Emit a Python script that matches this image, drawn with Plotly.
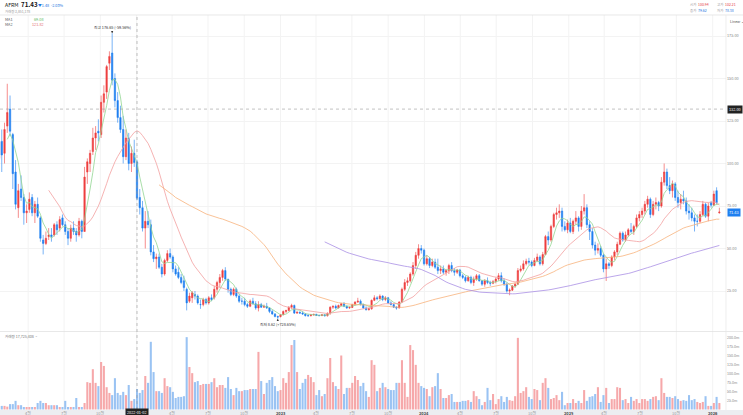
import pandas as pd
import plotly.graph_objects as go

FONT = "Noto Sans CJK KR, Noto Sans, Roboto, sans-serif"

# ---------------- data (weekly candles, first week starting 2021-01-10) ----------------
first_week = "2021-01-10"

opens = [
    # 2021
    90.9, 103, 113, 106, 122, 132, 117, 95, 74, 85,
    80, 71, 73, 80, 71, 76, 68, 55, 53, 57,
    58, 58, 64, 62, 68, 64, 60, 56, 62, 60,
    58, 66, 60, 95, 100, 107, 115, 119, 117, 136,
    142, 159, 165, 150, 137, 127, 120, 104, 115, 100,
    106,
    # 2022
    100.94, 80, 74, 62, 66, 64, 48, 44, 45,
    39, 35, 43, 47, 45, 38, 36, 33, 31, 26,
    19, 21, 23, 22, 17, 17, 20, 18, 21, 21,
    26, 30, 33, 37, 32, 26, 23, 26, 22, 19,
    19, 17, 16, 19, 17.5, 15, 17, 15.5, 16, 15,
    13, 11.5, 10,
    # 2023
    9.9, 11, 13, 13.5, 15.5, 16.5, 12,
    12.5, 12, 11.5, 10.5, 10.5, 11, 11.3, 10.6, 10.5, 11,
    10.4, 12, 15.5, 16, 15, 16.5, 17.5, 16, 15, 15.3,
    17, 18.5, 19, 17, 15, 14, 14.5, 19.5, 21, 20.5,
    22, 20, 21, 18, 17, 15.5, 15, 18.5, 26, 30,
    31, 35, 40, 46, 50,
    # 2024
    49, 41, 44, 40, 42,
    39, 37, 38, 36, 37, 40, 37, 36, 37.3, 34,
    33, 31, 33, 30, 32, 34, 31, 29, 31, 30,
    29.5, 30.5, 32, 34, 31, 29, 25, 25.5, 28, 29,
    37, 38, 41, 42.5, 42, 40, 43, 45, 41, 46.5,
    57, 55, 63, 70, 71, 72, 63, 61,
    # 2025
    65, 60,
    66, 68, 63, 72, 74, 64, 60, 52, 49, 50,
    46, 38, 41, 40, 45, 48, 52.5, 59, 55, 58,
    61, 60, 63, 68, 70, 72, 76, 79, 70, 76,
    77, 75, 89, 95, 87, 84, 88, 80, 77, 79,
    78, 72, 71, 68, 66, 66, 70, 76, 69, 77,
    # 2026
    75.5, 84, 71,
]

highs = [
    108, 118, 120, 124, 146.9, 140, 118, 102, 88, 93,
    82, 76, 83, 82, 78, 80, 69, 58, 60, 62,
    62, 65, 66, 69, 70, 66, 62, 64, 66, 62,
    68, 67, 98, 103, 108, 121, 122, 126, 140, 146,
    158, 166, 176.65, 153, 142, 134, 128, 120, 118, 110,
    114,
    102.21, 85, 78, 72, 72, 67, 52, 47, 47,
    41, 44, 49, 50, 46, 40, 39, 35, 34, 27,
    24, 25, 25, 23, 20, 21, 21, 22, 23, 28,
    31, 35, 38, 39, 32, 27, 27, 27, 23, 21,
    21, 18, 20, 21, 19, 19, 18, 17, 18, 15.5,
    14, 12, 10.5,
    11.5, 13.5, 14, 16, 17.5, 17, 13,
    13, 13, 12, 11.5, 11.5, 11.5, 11.5, 11, 11.3, 11.3,
    12.5, 16, 16.5, 17, 17, 18, 18.5, 16.5, 16, 17.5,
    19, 21, 20, 17.5, 16, 15, 20, 22.5, 22, 23,
    22.5, 22, 21.5, 19, 17.5, 16, 19, 27, 32, 33,
    36, 42, 48, 52.5, 52,
    50, 46, 45, 44, 44,
    44, 40, 40, 38, 41, 42, 38.5, 38, 38, 35,
    34, 34, 34, 33.5, 35, 35, 31.5, 32, 33, 31,
    31.5, 33, 35.5, 36, 32.5, 30, 26.5, 28.5, 30, 38.5,
    40, 43, 44, 44.5, 43, 44.5, 47, 46, 48, 58,
    60, 64, 71, 74, 76, 74, 66, 67,
    68, 67,
    72, 69, 75, 82, 76, 66, 62, 54, 53, 51.5,
    47, 44, 42, 46, 49, 54, 60, 60, 60, 62,
    65, 64, 70, 72, 74, 78, 81, 80, 78, 80,
    78, 92, 100, 97, 92, 90, 89, 84, 82, 84,
    80, 76, 74, 70, 70, 72, 78, 77, 77, 78,
    84, 86, 74,
]

lows = [
    88, 95, 95, 100, 118, 116, 85, 73, 68, 78,
    64, 65, 71, 69, 65, 68, 54, 46.5, 52, 55,
    54, 57, 58, 60, 63, 58, 52, 54, 58, 54,
    57, 56, 60, 88, 95, 105, 108, 113, 115, 130,
    138, 155, 146, 133, 124, 118, 100, 102, 96, 95,
    98,
    78.38, 70, 60, 50, 62, 46, 42, 38, 38,
    33, 34, 42, 44, 36, 34, 32, 29, 25, 13.6,
    18, 18, 20, 17, 14.5, 16, 17, 17, 19, 20,
    24, 27, 31, 31, 24, 22, 22, 21, 18, 17,
    16, 15, 15.5, 17, 14, 13, 15, 15, 14.5, 12,
    11, 9.5, 8.62,
    9.5, 10.8, 12, 13, 14.5, 11.5, 11.5,
    11.5, 11, 10, 9.8, 10, 10.5, 10.3, 10.2, 10.3, 10.2,
    10, 11, 14.5, 14.5, 14.8, 16, 15.5, 14.5, 14.5, 15,
    16.5, 18, 16.5, 14.5, 13.5, 13.5, 14, 19, 19.5, 20,
    19, 19, 17.5, 16.5, 15, 14, 14.8, 18, 25, 28,
    30, 34, 38, 44, 47,
    40, 40, 38.5, 39, 38,
    35, 35, 35, 34, 35, 36, 34, 35, 33, 32,
    30, 30.5, 29, 28, 31, 30.5, 28, 27.5, 29, 28,
    29, 29.5, 31, 30, 28, 24, 22.5, 25, 27, 28.5,
    36, 37, 40, 40.5, 39, 39.5, 42, 40, 40, 46,
    52, 54, 62, 67, 68, 60, 60, 59,
    59, 58.5,
    64, 60, 61, 70, 62, 55, 50, 46, 47, 45,
    36, 30.9, 38, 39, 43, 46, 52, 54, 54, 57,
    59, 58, 62, 66, 68, 70, 74, 68, 69, 73,
    72, 74, 87, 85, 82, 80, 78, 74, 73, 76,
    70, 67, 66, 60, 63, 65, 69, 68, 66, 74,
    75, 76, 70.5,
]

closes = [
    103, 113, 105, 120, 130, 119, 94, 76, 84, 80,
    71, 72, 79, 71, 76, 69, 56, 53, 56, 58,
    57, 64, 61, 67, 64, 60, 56, 62, 60, 58,
    66, 60, 92, 101, 106, 115, 118, 118, 136, 141,
    157, 163, 149, 137, 127, 120, 104, 115, 100, 106,
    100.56,
    79.62, 74, 62, 66, 64, 48, 44, 45, 39,
    35, 43, 47, 45, 38, 35, 33, 30, 27, 18,
    22, 24, 22, 18, 17, 20, 18, 21, 20, 26,
    30, 33, 37, 32, 26, 23, 26, 22, 19, 19,
    17, 16, 19, 17.5, 15, 17, 15.5, 16, 15, 13,
    11.5, 10, 9.67,
    11, 13, 13.5, 15.5, 16.5, 12, 12.5,
    12, 11.5, 10.5, 10.5, 11, 11.3, 10.6, 10.5, 11, 10.4,
    11.8, 15.5, 16, 15, 16.5, 17.5, 16, 15, 15.3, 17,
    18.5, 19, 17, 15, 14, 14.5, 19.5, 21, 20.5, 22,
    20, 21, 18, 17, 15.5, 15, 18.5, 26, 30, 31,
    35, 40, 46, 50, 49,
    41, 44, 40, 42, 39,
    37, 38, 36, 37, 40, 37, 36, 37.3, 34, 33,
    31, 33, 30, 32, 34, 31, 29, 31, 30, 29.5,
    30.5, 32, 34, 31, 29, 25, 25.5, 28, 29, 37,
    38, 41, 42.5, 42, 40, 43, 45, 41, 46.5, 57,
    55, 63, 70, 71, 72, 63, 61, 65,
    60, 66,
    68, 63, 72, 74, 64, 60, 52, 49, 50, 46,
    38, 41, 40, 45, 48, 52.5, 59, 55, 58, 61,
    60, 63, 68, 70, 72, 76, 79, 70, 76, 77,
    75, 89, 95, 87, 84, 88, 80, 77, 79, 78,
    72, 71, 68, 66, 66, 70, 76, 69, 75, 75.5,
    82, 77, 71.43,
]

volumes_m = [
    10, 10, 10, 10, 8, 15, 15, 24, 12, 12,
    7, 7, 7, 7, 7, 18, 24, 18, 18, 12,
    12, 12, 12, 7, 7, 24, 7, 7, 7, 32,
    7, 7, 18, 76, 74, 112, 74, 65, 132, 121,
    62, 46, 40, 87, 46, 40, 49, 40, 68, 24,
    29, 57, 46, 54, 93, 74, 188, 104, 51, 51,
    46, 87, 65, 62, 49, 32, 35, 35, 37, 201,
    118, 101, 76, 79, 68, 71, 71, 71, 76, 87,
    62, 68, 68, 60, 90, 57, 40, 60, 51, 51,
    54, 54,
    57, 57, 57, 160, 79, 43, 74, 82, 90, 65,
    51, 54, 87, 74, 104, 179, 193, 104, 57, 74,
    85, 96, 90, 76, 40, 54, 37, 43, 87, 143,
    76, 65, 57, 150, 43, 60, 60, 74, 93, 82,
    65, 74, 51, 35, 137, 124, 51, 60, 74, 62,
    57, 54, 54, 74, 74, 137, 74, 35, 179, 165,
    124, 74, 65, 60, 57, 37, 62, 65, 101, 57,
    32, 32, 40, 43, 21, 21, 21, 24, 24, 26,
    21, 51, 37, 29, 12, 21, 60,
    26, 43, 15, 29, 37, 21, 35, 26, 24, 37,
    199, 46, 51, 62, 35, 29, 57, 54, 26, 74,
    87, 60, 29, 32, 40, 26, 49, 12, 18, 18,
    29, 18, 24, 18, 54,
    24, 35, 37, 43, 62, 21, 40, 60, 18, 29,
    29, 62, 60, 26, 29, 18, 35, 24, 29, 18,
    29, 29, 24, 29, 35, 37, 26, 87, 46, 35,
    35, 32, 37, 29, 24, 26, 24, 40, 26, 29,
    21, 18, 21, 37, 10, 10, 18, 35, 18,
]

n = len(closes)
assert len(opens) == n and len(highs) == n and len(lows) == n and len(volumes_m) == n, (
    len(opens), len(highs), len(lows), len(closes), len(volumes_m))

ma_windows = [5, 20, 60, 120]
ma_colors = ["#93d593", "#f3a0a0", "#f7b27c", "#aa8fe4"]

price_ticks = [25, 50, 75, 100, 125, 150, 175]
vol_ticks = [25, 50, 75, 100, 125, 150, 175, 200]
quarter_dates = ["2021-04-01", "2021-07-01", "2021-10-01",
                 "2022-01-01", "2022-04-01", "2022-07-01", "2022-10-01",
                 "2023-01-01", "2023-04-01", "2023-07-01", "2023-10-01",
                 "2024-01-01", "2024-04-01", "2024-07-01", "2024-10-01",
                 "2025-01-01", "2025-04-01", "2025-07-01", "2025-10-01",
                 "2026-01-01"]
# the 2022 label is hidden behind the crosshair date box in the reference
quarter_labels = ["4월", "7월", "10월", "", "4월", "7월", "10월",
                  "2023", "4월", "7월", "10월", "2024", "4월", "7월", "10월",
                  "2025", "4월", "7월", "10월", "2026"]

ticker = "AFRM"
last_text = "71.43"
change_text = "▼1.48  -2.03%"
header_volume = "거래량 3,851,178"
pane_volume = "거래량 17,725,408"
ma_legend = [("MA1", "69.08", "#5cb85c"), ("MA2", "121.82", "#e36a6a")]
crosshair_date = "2022-01-02"
crosshair_price = 132.0
ohlc_box = [("시가", "100.94", "#e5403f"), ("고가", "102.21", "#e5403f"),
            ("종가", "79.62", "#1e74e0"), ("저가", "78.38", "#1e74e0")]

# ---------------- derived ----------------
highs = [max(h, o, c) for h, o, c in zip(highs, opens, closes)]
lows = [min(l, o, c) for l, o, c in zip(lows, opens, closes)]
dates = pd.date_range(first_week, periods=n, freq="7D")
close_s = pd.Series(closes, index=dates)

RED = "#ee3f3f"
BLUE = "#1f7ff0"
VRED = "rgba(242,135,137,0.72)"
VBLUE = "rgba(115,172,238,0.72)"

# ---------------- geometry ----------------
W, H = 743, 415
MR, MB = 17, 5
PW, PH = W - MR, H - MB


def fx(px):
    return px / PW


def fy(py):
    return (PH - py) / PH


px_per_week = 2.76
x0_px = -3.76
t0 = pd.Timestamp(first_week)
x_left = t0 + pd.Timedelta(days=7 * (0 - x0_px) / px_per_week)
x_right = t0 + pd.Timedelta(days=7 * (PW - x0_px) / px_per_week)

p_top_val, p_top_px, p_scale = 175.0, 36.0, 1.7
price_range = [p_top_val - (331 - p_top_px) / p_scale, p_top_val + (p_top_px - 15) / p_scale]
v_zero_px, v_scale = 409.5, 0.36
vol_range = [-(PH - v_zero_px) / v_scale, (v_zero_px - 332) / v_scale]

fig = go.Figure()

fig.add_trace(go.Candlestick(
    x=dates, open=opens, high=highs, low=lows, close=closes,
    increasing=dict(line=dict(color=RED, width=0.6), fillcolor=RED),
    decreasing=dict(line=dict(color=BLUE, width=0.6), fillcolor=BLUE),
    whiskerwidth=0, showlegend=False, hoverinfo="skip", xaxis="x", yaxis="y",
))

for w, col in zip(ma_windows, ma_colors):
    ma = close_s.rolling(w).mean()
    fig.add_trace(go.Scatter(x=dates, y=ma.values, mode="lines",
                             line=dict(color=col, width=0.8), showlegend=False,
                             hoverinfo="skip", xaxis="x", yaxis="y"))

vol_colors = [VRED if c >= o else VBLUE for o, c in zip(opens, closes)]
fig.add_trace(go.Bar(x=dates, y=volumes_m, marker=dict(color=vol_colors, line=dict(width=0)),
                     showlegend=False, hoverinfo="skip", xaxis="x", yaxis="y2"))

shapes = []
# vertical grid
for d in quarter_dates:
    shapes.append(dict(type="line", xref="x", yref="paper", x0=d, x1=d, y0=0, y1=fy(15),
                       line=dict(color="#eeeeee", width=0.7), layer="below"))
# header separator, pane separator
shapes.append(dict(type="line", xref="paper", yref="paper", x0=0, x1=fx(W), y0=fy(15), y1=fy(15),
                   line=dict(color="#dedede", width=0.7)))
shapes.append(dict(type="line", xref="paper", yref="paper", x0=0, x1=fx(W), y0=fy(331.5), y1=fy(331.5),
                   line=dict(color="#dedede", width=0.7)))
shapes.append(dict(type="line", xref="paper", yref="paper", x0=1, x1=1, y0=0, y1=fy(15),
                   line=dict(color="#e6e6e6", width=0.7)))
# bottom axis band
shapes.append(dict(type="rect", xref="paper", yref="paper", x0=0, x1=fx(W), y0=fy(H), y1=0,
                   fillcolor="#eceef1", line=dict(width=0), layer="below"))
# crosshair
shapes.append(dict(type="line", xref="x", yref="paper", x0=crosshair_date, x1=crosshair_date,
                   y0=0, y1=fy(15), line=dict(color="#999999", width=0.6, dash="dot")))
shapes.append(dict(type="line", xref="paper", yref="y", x0=0, x1=1, y0=crosshair_price, y1=crosshair_price,
                   line=dict(color="#999999", width=0.6, dash="dot")))

ann = []


def txt(x, y, text, size=4, color="#666", anchor="left", bold=False, **kw):
    t = f"<b>{text}</b>" if bold else text
    d = dict(x=fx(x), y=fy(y), xref="paper", yref="paper", text=t, showarrow=False,
             xanchor=anchor, yanchor="middle", font=dict(size=size, color=color, family=FONT))
    d.update(kw)
    ann.append(d)


# header
txt(3, 4.8, ticker, size=5.2, color="#222")
txt(18.5, 4.8, last_text, size=6.2, color="#111", bold=True)
txt(36, 5.2, change_text, size=3.8, color="#1e74e0")
txt(3, 11.3, header_volume, size=3.4, color="#999")
# MA legend
for k, (name, val, col) in enumerate(ma_legend):
    txt(3, 19.5 + 5 * k, name, size=3.8, color="#555")
    txt(46, 19.5 + 5 * k, val, size=3.8, color=col, anchor="right")
# top-right OHLC box
for k, (name, val, col) in enumerate(ohlc_box):
    cx = 688 + 27 * (k % 2)
    cy = 4.5 + 5.5 * (k // 2)
    txt(cx, cy, name, size=3.5, color="#999")
    txt(cx + 8, cy, val, size=3.5, color=col)
txt(728, 21, "Linear ⌄", size=3.6, color="#555")
# volume pane label
txt(3, 336.5, pane_volume + " ▫", size=3.6, color="#777")

# x labels
for d, lab in zip(quarter_dates, quarter_labels):
    if not lab:
        continue
    is_year = lab.isdigit()
    ann.append(dict(x=d, xref="x", y=fy(412.5), yref="paper", text=f"<b>{lab}</b>" if is_year else lab,
                    showarrow=False, xanchor="center", yanchor="middle",
                    font=dict(size=4, color="#444" if is_year else "#999", family=FONT)))

# high / low markers
i_hi = max(range(n), key=lambda i: highs[i])
i_lo = min(range(n), key=lambda i: lows[i])
last = closes[-1]
hi_v, lo_v = highs[i_hi], lows[i_lo]
ann.append(dict(x=dates[i_hi], y=hi_v, xref="x", yref="y",
                text=f"최고 {hi_v:.2f} ({(last - hi_v) / hi_v * 100:+.2f}%)",
                showarrow=True, arrowhead=2, arrowsize=0.6, arrowwidth=0.7, arrowcolor="#333",
                ax=0, ay=-6, font=dict(size=3.8, color="#333", family=FONT)))
ann.append(dict(x=dates[i_lo], y=lo_v, xref="x", yref="y",
                text=f"최저 {lo_v:.2f} ({(last - lo_v) / lo_v * 100:+.2f}%)",
                showarrow=True, arrowhead=2, arrowsize=0.6, arrowwidth=0.7, arrowcolor="#333",
                ax=0, ay=6, font=dict(size=3.8, color="#333", family=FONT)))

# right axis boxes
ann.append(dict(x=fx(727), xref="paper", y=crosshair_price, yref="y", text=f"{crosshair_price:.2f}",
                showarrow=False, xanchor="left", yanchor="middle", bgcolor="#222", borderpad=1,
                font=dict(size=3.8, color="white", family=FONT)))
ann.append(dict(x=fx(727), xref="paper", y=last, yref="y", text=f"{last:.2f}",
                showarrow=False, xanchor="left", yanchor="middle", bgcolor="#1f7ff0", borderpad=1,
                font=dict(size=3.8, color="white", family=FONT)))
ann.append(dict(x=crosshair_date, xref="x", y=fy(412.3), yref="paper", text=crosshair_date,
                showarrow=False, xanchor="center", yanchor="middle", bgcolor="#222", borderpad=1,
                font=dict(size=3.8, color="white", family=FONT)))

fig.update_layout(
    width=W, height=H,
    margin=dict(l=0, r=MR, t=0, b=MB),
    paper_bgcolor="white", plot_bgcolor="white",
    hovermode=False, showlegend=False, bargap=0.25,
    font=dict(family=FONT),
    xaxis=dict(type="date", range=[x_left, x_right], showgrid=False, showticklabels=False,
               zeroline=False, showline=False, rangeslider=dict(visible=False), anchor="y2"),
    yaxis=dict(domain=[fy(331), fy(15)], range=price_range, side="right",
               tickvals=price_ticks, ticktext=[f"{v:.2f}" for v in price_ticks],
               tickfont=dict(size=3.8, color="#888", family=FONT), showgrid=True,
               gridcolor="#f3f3f3", gridwidth=0.6, zeroline=False, showline=False, ticks=""),
    yaxis2=dict(domain=[0, fy(332)], range=vol_range, side="right",
                tickvals=vol_ticks, ticktext=[f"{v:.1f}m" for v in vol_ticks],
                tickfont=dict(size=3.6, color="#888", family=FONT), showgrid=False,
                zeroline=False, showline=False, ticks="", anchor="x"),
    shapes=shapes, annotations=ann,
)

fig.write_html("out.html")
